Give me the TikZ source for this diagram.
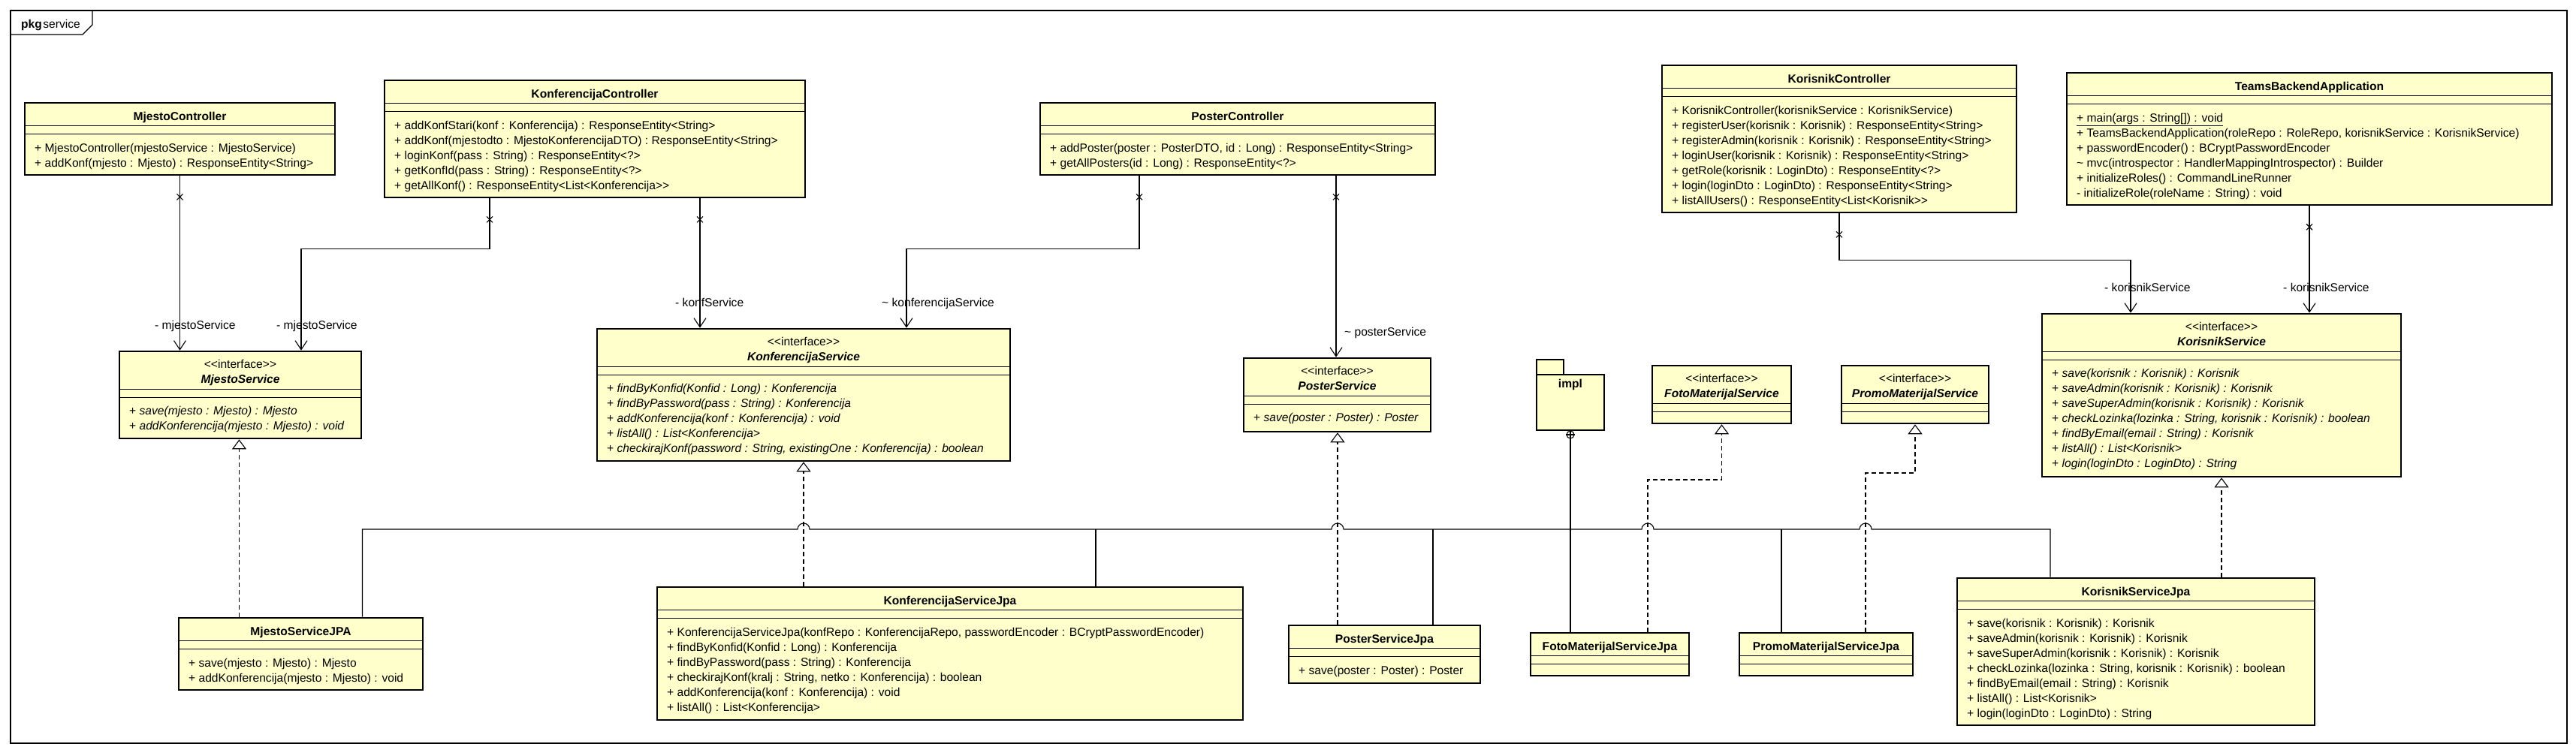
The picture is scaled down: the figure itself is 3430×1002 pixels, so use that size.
\documentclass[tikz,border=0pt]{standalone}
\usepackage{fontspec}
\setmainfont{Liberation Sans}[Ligatures={TeXOff,CommonOff}]
\usetikzlibrary{fit,arrows.meta}
\definecolor{umlyellow}{RGB}{255,255,204}
\tikzset{
  umlfont/.style={font=\fontsize{15.6}{20}\selectfont},
  cls/.style={draw=black, line width=2.6pt, fill=umlyellow, inner sep=0pt, rectangle},
  sepline/.style={line width=1pt},
  ops/.style={umlfont, anchor=north west, inner sep=0pt, align=left},
  ttl/.style={umlfont, anchor=north, inner sep=0pt, align=center},
  lbl/.style={umlfont, anchor=base west, inner sep=0pt},
  nav/.style={line width=1.1pt, -{Straight Barb[length=12pt,width=16pt]}},
  real/.style={line width=1.1pt, dash pattern=on 6pt off 4pt, -{Triangle[open,length=13pt,width=19pt]}},
  tree/.style={line width=1.1pt},
  xmark/.style={line width=1.1pt},
}
% name, L, T, R, B, title, operations
\newcommand{\plaincls}[7]{%
  \node[cls, fit={(#2,#3) (#4,#5)}] (#1) {};
  \draw[sepline] (#2,#3+30.5) -- (#4,#3+30.5);
  \draw[sepline] (#2,#3+41) -- (#4,#3+41);
  \node[ttl] (#1-t) at ({(#2+#4)/2},#3+9.5) {\strut\textbf{#6}};
  \node[ops] (#1-o) at (#2+13,#3+51) {\strut#7};
}
\newcommand{\ifcls}[7]{%
  \node[cls, fit={(#2,#3) (#4,#5)}] (#1) {};
  \draw[sepline] (#2,#3+50) -- (#4,#3+50);
  \draw[sepline] (#2,#3+61) -- (#4,#3+61);
  \node[ttl] (#1-t) at ({(#2+#4)/2},#3+8.5) {\strut<<interface>>\\\textbf{\textit{#6}}};
  \node[ops] (#1-o) at (#2+13,#3+70.5) {\strut#7};
}
\newcommand{\iop}[1]{+ \textit{#1}}
\newcommand{\xmk}[1]{\draw[xmark] ([shift={(-4pt,-24pt)}]#1) -- ([shift={(4pt,-32pt)}]#1) ([shift={(-4pt,-32pt)}]#1) -- ([shift={(4pt,-24pt)}]#1);}

\begin{document}
\begin{tikzpicture}[x=1pt,y=-1pt]
\useasboundingbox (0,0) rectangle (3430,1002);
% package frame
\draw[line width=1.2pt] (14,14) rectangle (3418,990);
\draw[line width=1.2pt] (14,46) -- (110,46) -- (123,33) -- (123,14);
\node[lbl] (pkgname) at (28,37.5) {\textbf{pkg}\hspace{1.5pt}service};

% controllers
\plaincls{mc}{33}{137}{446}{233}{MjestoController}{%
+ MjestoController(mjestoService : MjestoService)\\
+ addKonf(mjesto : Mjesto) : ResponseEntity<String>}
\plaincls{kc}{512}{107}{1072}{263}{KonferencijaController}{%
+ addKonfStari(konf : Konferencija) : ResponseEntity<String>\\
+ addKonf(mjestodto : MjestoKonferencijaDTO) : ResponseEntity<String>\\
+ loginKonf(pass : String) : ResponseEntity<?>\\
+ getKonfId(pass : String) : ResponseEntity<?>\\
+ getAllKonf() : ResponseEntity<List<Konferencija>>}
\plaincls{pc}{1385}{137}{1911}{233}{PosterController}{%
+ addPoster(poster : PosterDTO, id : Long) : ResponseEntity<String>\\
+ getAllPosters(id : Long) : ResponseEntity<?>}
\plaincls{koc}{2213}{87}{2685}{283}{KorisnikController}{%
+ KorisnikController(korisnikService : KorisnikService)\\
+ registerUser(korisnik : Korisnik) : ResponseEntity<String>\\
+ registerAdmin(korisnik : Korisnik) : ResponseEntity<String>\\
+ loginUser(korisnik : Korisnik) : ResponseEntity<String>\\
+ getRole(korisnik : LoginDto) : ResponseEntity<?>\\
+ login(loginDto : LoginDto) : ResponseEntity<String>\\
+ listAllUsers() : ResponseEntity<List<Korisnik>>}
\plaincls{tba}{2752}{97}{3398}{273}{TeamsBackendApplication}{%
\underline{+ main(args : String[]) : void}\\
+ TeamsBackendApplication(roleRepo : RoleRepo, korisnikService : KorisnikService)\\
+ passwordEncoder() : BCryptPasswordEncoder\\
\textasciitilde{} mvc(introspector : HandlerMappingIntrospector) : Builder\\
+ initializeRoles() : CommandLineRunner\\
- initializeRole(roleName : String) : void}

% interfaces
\ifcls{ms}{159}{468}{481}{584}{MjestoService}{%
\iop{save(mjesto : Mjesto) : Mjesto}\\
\iop{addKonferencija(mjesto : Mjesto) : void}}
\ifcls{ks}{795}{438}{1345}{614}{KonferencijaService}{%
\iop{findByKonfid(Konfid : Long) : Konferencija}\\
\iop{findByPassword(pass : String) : Konferencija}\\
\iop{addKonferencija(konf : Konferencija) : void}\\
\iop{listAll() : List<Konferencija>}\\
\iop{checkirajKonf(password : String, existingOne : Konferencija) : boolean}}
\ifcls{ps}{1656}{477}{1905}{575}{PosterService}{%
\iop{save(poster : Poster) : Poster}}
\ifcls{fs}{2200}{487}{2385}{564}{FotoMaterijalService}{}
\ifcls{prs}{2452}{487}{2648}{564}{PromoMaterijalService}{}
\ifcls{kos}{2719}{418}{3197}{635}{KorisnikService}{%
\iop{save(korisnik : Korisnik) : Korisnik}\\
\iop{saveAdmin(korisnik : Korisnik) : Korisnik}\\
\iop{saveSuperAdmin(korisnik : Korisnik) : Korisnik}\\
\iop{checkLozinka(lozinka : String, korisnik : Korisnik) : boolean}\\
\iop{findByEmail(email : String) : Korisnik}\\
\iop{listAll() : List<Korisnik>}\\
\iop{login(loginDto : LoginDto) : String}}

% impl package
\node[cls, fit={(2046,479) (2082,499)}] (impltab) {};
\node[cls, fit={(2046,499) (2136,573)}] (impl) {};
\node[ttl] (impl-t) at (2091,502) {\strut\textbf{impl}};

% implementations
\plaincls{msj}{238}{823}{563}{919}{MjestoServiceJPA}{%
+ save(mjesto : Mjesto) : Mjesto\\
+ addKonferencija(mjesto : Mjesto) : void}
\plaincls{ksj}{875}{782}{1655}{959}{KonferencijaServiceJpa}{%
+ KonferencijaServiceJpa(konfRepo : KonferencijaRepo, passwordEncoder : BCryptPasswordEncoder)\\
+ findByKonfid(Konfid : Long) : Konferencija\\
+ findByPassword(pass : String) : Konferencija\\
+ checkirajKonf(kralj : String, netko : Konferencija) : boolean\\
+ addKonferencija(konf : Konferencija) : void\\
+ listAll() : List<Konferencija>}
\plaincls{psj}{1716}{833}{1971}{910}{PosterServiceJpa}{%
+ save(poster : Poster) : Poster}
\plaincls{fsj}{2038}{843}{2249}{900}{FotoMaterijalServiceJpa}{}
\plaincls{prsj}{2316}{843}{2547}{900}{PromoMaterijalServiceJpa}{}
\plaincls{kosj}{2606}{770}{3082}{966}{KorisnikServiceJpa}{%
+ save(korisnik : Korisnik) : Korisnik\\
+ saveAdmin(korisnik : Korisnik) : Korisnik\\
+ saveSuperAdmin(korisnik : Korisnik) : Korisnik\\
+ checkLozinka(lozinka : String, korisnik : Korisnik) : boolean\\
+ findByEmail(email : String) : Korisnik\\
+ listAll() : List<Korisnik>\\
+ login(loginDto : LoginDto) : String}

% navigable associations
\coordinate (b1) at ([xshift=-140pt]kc.south);
\coordinate (b2) at ([xshift=81pt]ms.north);
\coordinate (c1) at ([xshift=140pt]kc.south);
\coordinate (d1) at ([xshift=-131pt]pc.south);
\coordinate (d2) at ([xshift=137pt]ks.north);
\coordinate (e1) at ([xshift=131pt]pc.south);
\coordinate (f2) at ([xshift=-121pt]kos.north);
\draw[nav] (mc.south) -- (mc.south |- ms.north);
\draw[nav] (b1) -- ++(0,67) -| (b2);
\draw[nav] (c1) -- (c1 |- ks.north);
\draw[nav] (d1) -- ++(0,97) -| (d2);
\draw[nav] (e1) -- (e1 |- ps.north);
\draw[nav] (koc.south) -- ++(0,62) -| (f2);
\draw[nav] (tba.south) -- (tba.south |- kos.north);
\xmk{mc.south} \xmk{b1} \xmk{c1} \xmk{d1} \xmk{e1} \xmk{koc.south} \xmk{tba.south}
\node[lbl] (l-a) at (206,438.5) {- mjestoService};
\node[lbl] (l-b) at (368,438.5) {- mjestoService};
\node[lbl] (l-c) at (899,408.5) {- konfService};
\node[lbl] (l-d) at (1174,408.5) {\textasciitilde{} konferencijaService};
\node[lbl] (l-e) at (1790,447.5) {\textasciitilde{} posterService};
\node[lbl] (l-f) at (2802,388.5) {- korisnikService};
\node[lbl] (l-g) at (3040,388.5) {- korisnikService};

% containment tree from impl
\coordinate (busy) at (0,705);
\coordinate (t1) at ([xshift=82pt]msj.north);
\coordinate (t2) at ([xshift=194pt]ksj.north);
\coordinate (t3) at ([xshift=64.5pt]psj.north);
\coordinate (t4) at ([xshift=-59.5pt]prsj.north);
\coordinate (t5) at ([xshift=-114pt]kosj.north);
\draw[tree] (t1) |- (1062,705) arc[start angle=180,end angle=0,radius=8pt]
  -- (1773,705) arc[start angle=180,end angle=0,radius=8pt]
  -- (2186,705) arc[start angle=180,end angle=0,radius=8pt]
  -- (2476,705) arc[start angle=180,end angle=0,radius=8pt] -| (t5);
\draw[tree] (t2) -- (t2 |- busy);
\draw[tree] (t3) -- (t3 |- busy);
\draw[tree] (t4) -- (t4 |- busy);
\node[circle, draw, line width=1.1pt, fill=white, minimum size=10pt, inner sep=0pt] (implc) at (2091,579) {};
\draw[tree] (implc.north) -- (implc.south) (implc.west) -- (implc.east);
\draw[tree] (implc.south) -- (implc.south |- fsj.north);

% realizations
\coordinate (realyf) at (0,639);
\coordinate (realyp) at (0,630);
\coordinate (r1) at ([xshift=-82pt]msj.north);
\coordinate (r2) at ([xshift=-195pt]ksj.north);
\coordinate (r3) at ([xshift=-62.5pt]psj.north);
\coordinate (r4) at ([xshift=50.5pt]fsj.north);
\coordinate (r5) at ([xshift=52.5pt]prsj.north);
\coordinate (r6) at ([xshift=114pt]kosj.north);
\draw[real] (r1) -- (r1 |- ms.south);
\draw[real] (r2) -- (r2 |- ks.south);
\draw[real] (r3) -- (r3 |- ps.south);
\draw[real] (r4) -- (r4 |- realyf) -| (fs.south);
\draw[real] (r5) -- (r5 |- realyp) -| (prs.south);
\draw[real] (r6) -- (r6 |- kos.south);
\end{tikzpicture}
\end{document}
